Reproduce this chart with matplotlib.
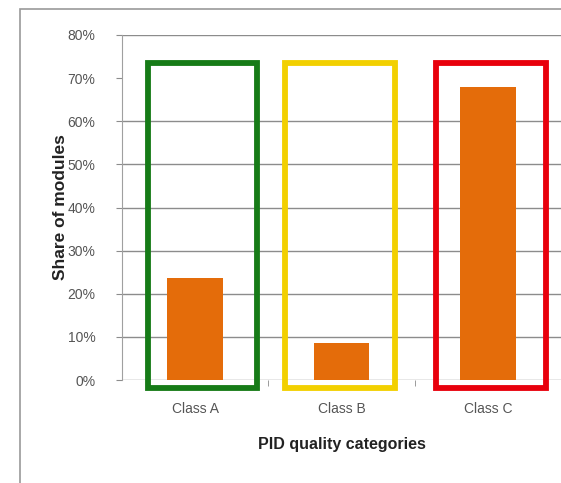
import matplotlib.pyplot as plt
from matplotlib.patches import Rectangle
from matplotlib.ticker import PercentFormatter, FixedLocator

categories = ["Class A", "Class B", "Class C"]
shares = [0.237, 0.086, 0.68]
frame_colors = ["#167b17", "#f2d000", "#e8000c"]
y_ticks = [0, 0.1, 0.2, 0.3, 0.4, 0.5, 0.6, 0.7, 0.8]


def main():
    plt.rcParams['font.family'] = ['Liberation Sans', 'DejaVu Sans']
    fig = plt.figure(figsize=(5.61, 4.83), dpi=100)

    # outer chart border, runs off the right and bottom edges
    fig.patches.append(Rectangle((20 / 561, -0.05), 1.2, 1 - 9 / 483 + 0.05,
                                 transform=fig.transFigure, fill=False,
                                 edgecolor="#9a9a9a", linewidth=1.2))

    ax = fig.add_axes([122 / 561, 1 - 380 / 483, 1 - 122 / 561, (380 - 35) / 483])
    x = range(len(categories))
    ax.bar(x, shares, width=0.38, color="#e46c0a", zorder=3)

    ax.set_xlim(-0.5, len(categories) - 0.5)
    ax.set_ylim(0, 0.8)
    ax.yaxis.set_major_locator(FixedLocator(y_ticks))
    ax.yaxis.set_major_formatter(PercentFormatter(1.0, decimals=0))

    # horizontal gridlines (the 70% line is hidden behind the class frames' top band)
    for v in y_ticks:
        if abs(v - 0.7) < 1e-9:
            continue
        ax.axhline(v, color="#8c8c8c", linewidth=1.0, zorder=1)

    for s in ["top", "right", "bottom"]:
        ax.spines[s].set_visible(False)
    ax.spines["left"].set_color("#a0a0a0")

    ax.set_xticks(list(x))
    ax.set_xticklabels(categories)
    ax.set_xticks([0.5, 1.5, 2.5], minor=True)
    ax.tick_params(axis="x", which="major", length=0, pad=16, labelsize=10,
                   labelcolor="#555555")
    ax.tick_params(axis="x", which="minor", length=4, color="#8c8c8c")
    ax.tick_params(axis="y", length=4, color="#8c8c8c", labelsize=10,
                   labelcolor="#555555", pad=15)

    ax.set_ylabel("Share of modules", fontsize=12.5, fontweight="bold",
                  color="#222222", labelpad=0)
    ax.set_xlabel("PID quality categories", fontsize=11.5, fontweight="bold",
                  color="#222222", labelpad=15)

    # coloured frames around each quality class
    offsets = [0.05, -0.01, 0.02]
    for i, (c, off) in enumerate(zip(frame_colors, offsets)):
        rect = Rectangle((i - 0.375 + off, -0.019), 0.75, 0.753, fill=False,
                         edgecolor=c, linewidth=4.2, zorder=4, clip_on=False)
        ax.add_patch(rect)

    fig.savefig("out.png", dpi=100)


if __name__ == "__main__":
    main()
